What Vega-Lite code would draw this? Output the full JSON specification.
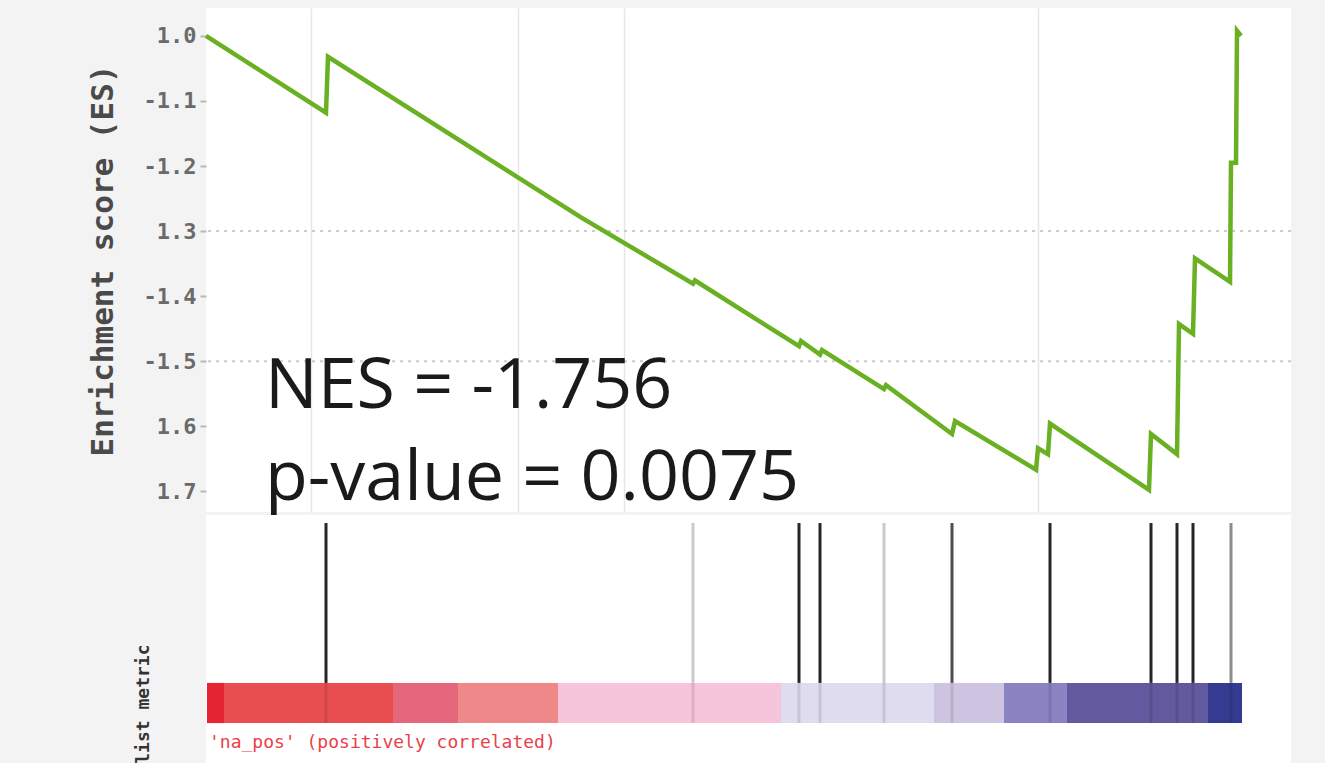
{
  "$schema": "https://vega.github.io/schema/vega-lite/v6.json",
  "background": "#f3f3f3",
  "padding": {"left": 87, "top": 8, "right": 35, "bottom": 0},
  "spacing": 0,
  "config": {"view": {"stroke": null, "fill": "white"}, "concat": {"spacing": 0}},
  "datasets": {
    "curve": [
      {"rank": 0, "es": 0},
      {"rank": 120, "es": -0.118},
      {"rank": 122, "es": -0.032},
      {"rank": 375, "es": -0.279},
      {"rank": 487, "es": -0.381},
      {"rank": 489, "es": -0.376},
      {"rank": 593, "es": -0.477},
      {"rank": 595, "es": -0.469},
      {"rank": 614, "es": -0.49},
      {"rank": 616, "es": -0.483},
      {"rank": 678, "es": -0.543},
      {"rank": 680, "es": -0.537},
      {"rank": 746, "es": -0.612},
      {"rank": 749, "es": -0.592},
      {"rank": 830, "es": -0.667},
      {"rank": 832, "es": -0.634},
      {"rank": 842, "es": -0.643},
      {"rank": 844, "es": -0.596},
      {"rank": 943, "es": -0.698},
      {"rank": 945, "es": -0.612},
      {"rank": 971, "es": -0.643},
      {"rank": 973, "es": -0.443},
      {"rank": 987, "es": -0.458},
      {"rank": 989, "es": -0.342},
      {"rank": 1024, "es": -0.378},
      {"rank": 1025, "es": -0.195},
      {"rank": 1030, "es": -0.195},
      {"rank": 1031, "es": 0.008},
      {"rank": 1035, "es": 0}
    ],
    "hits": [
      {"rank": 120, "tone": "black"},
      {"rank": 487, "tone": "light gray"},
      {"rank": 593, "tone": "black"},
      {"rank": 614, "tone": "black"},
      {"rank": 678, "tone": "light gray"},
      {"rank": 746, "tone": "dark gray"},
      {"rank": 844, "tone": "black"},
      {"rank": 945, "tone": "black"},
      {"rank": 971, "tone": "black"},
      {"rank": 987, "tone": "black"},
      {"rank": 1025, "tone": "gray"}
    ],
    "bar": [
      {"start": 1, "end": 18, "metric": 2.0},
      {"start": 18, "end": 187, "metric": 1.6},
      {"start": 187, "end": 252, "metric": 1.2},
      {"start": 252, "end": 352, "metric": 0.9},
      {"start": 352, "end": 575, "metric": 0.4},
      {"start": 575, "end": 728, "metric": -0.3},
      {"start": 728, "end": 798, "metric": -0.6},
      {"start": 798, "end": 861, "metric": -1.0},
      {"start": 861, "end": 1002, "metric": -1.4},
      {"start": 1002, "end": 1036, "metric": -1.9}
    ],
    "stats": [
      {"rank": 59, "es": -0.572, "label": "NES = -1.756"},
      {"rank": 59, "es": -0.714, "label": "p-value = 0.0075"}
    ],
    "ygrid": [{"es": -0.3}, {"es": -0.5}],
    "caption": [{"text": "'na_pos' (positively correlated)"}]
  },
  "vconcat": [
    {
      "width": 1085,
      "height": 504,
      "layer": [
        {
          "data": {"name": "ygrid"},
          "mark": {"type": "rule", "color": "#cccccc", "strokeWidth": 2, "strokeDash": [3, 5]},
          "encoding": {
            "y": {
              "field": "es",
              "type": "quantitative",
              "scale": {"domain": [-0.732, 0.043], "nice": false, "zero": false},
              "axis": {
                "values": [0, -0.1, -0.2, -0.3, -0.4, -0.5, -0.6, -0.7],
                "labelExpr": "datum.value > -0.05 ? '1.0' : datum.value > -0.15 ? '-1.1' : datum.value > -0.25 ? '-1.2' : datum.value > -0.35 ? '1.3' : datum.value > -0.45 ? '-1.4' : datum.value > -0.55 ? '-1.5' : datum.value > -0.65 ? '1.6' : '1.7'",
                "title": "Enrichment score (ES)",
                "grid": false,
                "domain": false,
                "tickColor": "#b8b8b8",
                "tickSize": 6,
                "tickWidth": 2,
                "labelFont": "DejaVu Sans Mono",
                "labelFontSize": 22,
                "labelFontWeight": "bold",
                "labelColor": "#6a6a6a",
                "labelPadding": 4,
                "titleFont": "DejaVu Sans Mono",
                "titleFontSize": 31,
                "titleFontWeight": "bold",
                "titleColor": "#4a4a4a",
                "titlePadding": 24
              }
            }
          }
        },
        {
          "mark": {"type": "rule", "color": "#9a9a9a", "strokeWidth": 2},
          "encoding": {"y": {"datum": 0}}
        },
        {
          "mark": {"type": "rule", "color": "#b3b3b3", "strokeWidth": 3},
          "encoding": {"y": {"datum": 0.043}}
        },
        {
          "mark": {"type": "rule", "color": "#a8a8a8", "strokeWidth": 3},
          "encoding": {"y": {"datum": -0.732}}
        },
        {
          "data": {"name": "curve"},
          "mark": {"type": "line", "color": "#69b023", "strokeWidth": 4.5},
          "encoding": {
            "x": {
              "field": "rank",
              "type": "quantitative",
              "scale": {"domain": [0, 1085], "nice": false, "zero": false},
              "axis": {
                "values": [105, 312, 418, 832],
                "grid": true,
                "gridColor": "#e6e6e6",
                "gridWidth": 1.5,
                "labels": false,
                "ticks": false,
                "domain": false,
                "title": null
              }
            },
            "y": {"field": "es", "type": "quantitative"}
          }
        },
        {
          "mark": {"type": "rule", "color": "#b3b3b3", "strokeWidth": 2},
          "encoding": {"x": {"datum": 1085}}
        },
        {
          "data": {"name": "stats"},
          "mark": {"type": "text", "align": "left", "baseline": "alphabetic", "font": "Open Sans", "fontSize": 70, "color": "#1a1a1a"},
          "encoding": {
            "x": {"field": "rank", "type": "quantitative"},
            "y": {"field": "es", "type": "quantitative"},
            "text": {"field": "label"}
          }
        }
      ]
    },
    {
      "width": 1085,
      "height": 251,
      "resolve": {"scale": {"color": "independent"}},
      "layer": [
        {
          "data": {"name": "hits"},
          "mark": {"type": "rule", "strokeWidth": 3},
          "encoding": {
            "x": {
              "field": "rank",
              "type": "quantitative",
              "scale": {"domain": [0, 1085], "nice": false, "zero": false},
              "axis": null
            },
            "y": {
              "datum": 0.968,
              "type": "quantitative",
              "scale": {"domain": [0, 1], "nice": false, "zero": false},
              "axis": {
                "title": "list metric",
                "labels": false,
                "ticks": false,
                "domain": false,
                "grid": false,
                "titleFont": "DejaVu Sans Mono",
                "titleFontSize": 18,
                "titleFontWeight": "bold",
                "titleColor": "#333333",
                "titleAngle": 270,
                "titleAlign": "right",
                "titleBaseline": "middle",
                "titleX": -63,
                "titleY": 129
              }
            },
            "y2": {"datum": 0.331},
            "color": {
              "field": "tone",
              "type": "nominal",
              "scale": {"domain": ["black", "dark gray", "gray", "light gray"], "range": ["#262626", "#4f4f4f", "#8d8d8d", "#cacaca"]},
              "legend": null
            }
          }
        },
        {
          "data": {"name": "bar"},
          "mark": {"type": "rect"},
          "encoding": {
            "x": {"field": "start", "type": "quantitative"},
            "x2": {"field": "end"},
            "y": {"datum": 0.331},
            "y2": {"datum": 0.171},
            "color": {
              "field": "metric",
              "type": "ordinal",
              "scale": {
                "domain": [2.0, 1.6, 1.2, 0.9, 0.4, -0.3, -0.6, -1.0, -1.4, -1.9],
                "range": ["#e42531", "#e84e50", "#e4677b", "#ee8889", "#f6c5db", "#dedcee", "#cec4e1", "#8a85c2", "#625a9e", "#363b92"]
              },
              "legend": null
            }
          }
        },
        {
          "data": {"name": "hits"},
          "mark": {"type": "rule", "strokeWidth": 3, "color": "#000000", "opacity": 0.1},
          "encoding": {
            "x": {"field": "rank", "type": "quantitative"},
            "y": {"datum": 0.331},
            "y2": {"datum": 0.171}
          }
        },
        {
          "mark": {"type": "rule", "color": "#cfcfcf", "strokeWidth": 2, "strokeDash": [3, 5]},
          "encoding": {"y": {"datum": 0.024}}
        },
        {
          "mark": {"type": "rule", "color": "#b3b3b3", "strokeWidth": 2},
          "encoding": {"x": {"datum": 1085}, "y": {"datum": 1}, "y2": {"datum": 0.024}}
        },
        {
          "data": {"name": "caption"},
          "mark": {"type": "text", "align": "left", "baseline": "middle", "font": "DejaVu Sans Mono", "fontSize": 18, "color": "#e8414a"},
          "encoding": {
            "x": {"datum": 3},
            "y": {"datum": 0.092},
            "text": {"field": "text"}
          }
        }
      ]
    }
  ]
}
